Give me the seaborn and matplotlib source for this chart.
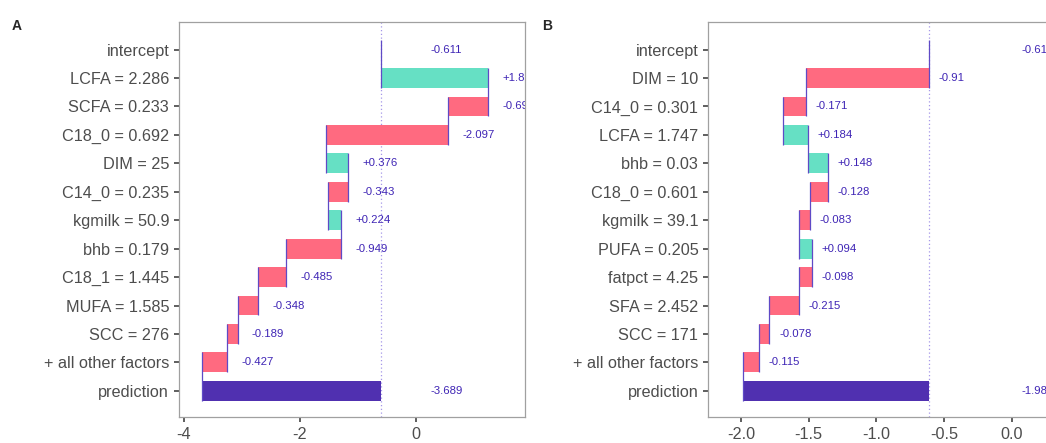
import matplotlib
matplotlib.use("Agg")
import matplotlib.pyplot as plt
from matplotlib.ticker import MultipleLocator, FormatStrFormatter
import seaborn as sns

# break-down contributions, first = intercept, last = prediction
labels_a = ["intercept", "LCFA = 2.286", "SCFA = 0.233", "C18_0 = 0.692", "DIM = 25",
            "C14_0 = 0.235", "kgmilk = 50.9", "bhb = 0.179", "C18_1 = 1.445",
            "MUFA = 1.585", "SCC = 276", "+ all other factors", "prediction"]
values_a = [-0.611, 1.858, -0.698, -2.097, 0.376, -0.343, 0.224, -0.949,
            -0.485, -0.348, -0.189, -0.427, -3.689]

labels_b = ["intercept", "DIM = 10", "C14_0 = 0.301", "LCFA = 1.747", "bhb = 0.03",
            "C18_0 = 0.601", "kgmilk = 39.1", "PUFA = 0.205", "fatpct = 4.25",
            "SFA = 2.452", "SCC = 171", "+ all other factors", "prediction"]
values_b = [-0.611, -0.91, -0.171, 0.184, 0.148, -0.128, -0.083, 0.094,
            -0.098, -0.215, -0.078, -0.115, -1.983]

POS = "#66E0C4"
NEG = "#FF6A80"
PRED = "#5030B0"
LINE = "#5F4AC6"
TXT = "#3F25B5"

sns.set_theme(style="white")
plt.rcParams["font.family"] = ["Liberation Sans", "DejaVu Sans"]
plt.rcParams["axes.unicode_minus"] = False


def fmt(v, signed):
    s = f"{v:.3f}".rstrip("0").rstrip(".")
    if signed and v > 0:
        s = "+" + s
    return s


def waterfall(ax, labels, values, xlim, step, tickfmt, off):
    n = len(labels)
    base = values[0]
    cum = base
    ends = [base]
    for i in range(1, n - 1):
        prev = cum
        cum = prev + values[i]
        ends.append(cum)
        ax.barh(i, values[i], left=prev, height=0.7, lw=0,
                color=POS if values[i] > 0 else NEG, zorder=2)
        ax.text(max(prev, cum) + off, i, fmt(values[i], True), color=TXT,
                fontsize=8.2, va="center", ha="left", clip_on=True)
    pred = values[-1]
    ends.append(pred)
    ax.barh(n - 1, pred - base, left=base, height=0.7, lw=0, color=PRED, zorder=2)
    ax.text(max(0, base) + off, 0, fmt(base, False), color=TXT,
            fontsize=8.2, va="center", ha="left", clip_on=True)
    ax.text(max(0, base, pred) + off, n - 1, fmt(pred, False), color=TXT,
            fontsize=8.2, va="center", ha="left", clip_on=True)

    # connectors between consecutive bars
    for i in range(n - 1):
        ax.vlines(ends[i], i - 0.35, i + 1.35, color=LINE, lw=0.9, zorder=3)
    ax.axvline(base, color="#A597E8", lw=0.9, ls=(0, (1, 2)), zorder=1)

    ax.set_xlim(*xlim)
    ax.set_ylim(n - 1 + 0.93, -0.98)
    ax.set_yticks(range(n))
    ax.set_yticklabels(labels)
    ax.xaxis.set_major_locator(MultipleLocator(step))
    ax.xaxis.set_major_formatter(FormatStrFormatter(tickfmt))
    for sp in ax.spines.values():
        sp.set_color("#A0A0A0")
        sp.set_linewidth(0.9)
    ax.tick_params(axis="both", length=3.8, width=1.1, color="#333333",
                   labelcolor="#4D4D4D", labelsize=11.7,
                   left=True, bottom=True)
    ax.tick_params(axis="y", pad=3.5)
    ax.tick_params(axis="x", pad=3)
    ax.grid(False)


fig = plt.figure(figsize=(10.46, 4.43), dpi=100)
ax_a = fig.add_axes([0.1714, 0.058, 0.3308, 0.893])
ax_b = fig.add_axes([0.6773, 0.058, 0.3308, 0.893])

waterfall(ax_a, labels_a, values_a, (-4.081, 1.884), 2, "%d", 0.245)
waterfall(ax_b, labels_b, values_b, (-2.241, 0.316), 0.5, "%.1f", 0.071)

fig.text(12 / 1046, 1 - 18.5 / 443, "A", fontsize=10, fontweight="bold", va="top", ha="left")
fig.text(542 / 1046, 1 - 18.5 / 443, "B", fontsize=10, fontweight="bold", va="top", ha="left")

fig.savefig("out.png", dpi=100)
